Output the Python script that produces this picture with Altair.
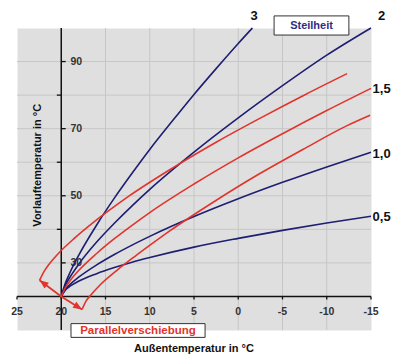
import altair as alt
import pandas as pd

# ---- data ----
blue_x = [20, 19.5, 19, 18, 16, 14, 12, 10, 5, 0, -5, -10, -15]
c3_x = [20, 19.5, 19, 18, 16, 14, 12, 10, 7.5, 5, 2.5, 0, -1.6]
c3_y = [20, 24.2, 27.2, 32.4, 41.3, 49.3, 56.7, 63.8, 72.1, 80.2, 87.9, 95.4, 100]
c2_y = [20, 23.5, 25.8, 29.7, 36.2, 41.8, 47, 51.9, 63, 73.2, 82.8, 91.9, 100]
c10_y = [20, 22.2, 23.6, 25.8, 29.4, 32.5, 35.3, 37.9, 43.8, 49.1, 54, 58.6, 63]
c05_y = [20, 22, 23.05, 24.6, 26.8, 28.6, 30.2, 31.6, 34.7, 37.3, 39.7, 41.9, 43.9]

r15_x = [20, 19.5, 19, 18, 16, 14, 12, 10, 5, 0, -5, -10, -15]
r15_y = [20, 22.8, 24.7, 27.8, 32.8, 37.2, 41.2, 45, 53.5, 61.3, 68.5, 75.4, 82]
rtop_x = [22.45, 21.9, 21.4, 20.4, 18.4, 16.4, 14.4, 12.4, 7.4, 2.4, -2.6, -7.6, -12.3]
rtop_y = [24.8, 27.6, 29.5, 32.6, 37.6, 42, 46, 49.8, 58.3, 66.1, 73.3, 80.2, 86.4]
rlow_x = [17.65, 17.2, 16.7, 15.7, 13.7, 11.7, 9.7, 7.7, 2.7, -2.3, -7.3, -12.3, -14.9]
rlow_y = [16.1, 18.6, 20.3, 23.2, 27.8, 31.9, 35.8, 39.6, 48.3, 56.4, 63.8, 70.9, 74.0]

arrow_x = [22.45, 20, 17.65]
arrow_y = [24.8, 20, 16.1]

x_ticks = [25, 20, 15, 10, 5, 0, -5, -10, -15]
x_grid = [15, 10, 5, 0, -5, -10]
y_grid = [30, 40, 50, 60, 70, 80, 90]
y_label_vals = [30, 50, 70, 90]
y_left_ticks = [40, 60, 80]

curve_labels = ["3", "2", "1,5", "1,0", "0,5"]
curve_label_x = [-1.8, -16.2, -16.2, -16.2, -16.2]
curve_label_y = [103.6, 103.6, 81.8, 62.4, 43.6]

BLUE = "#1e1e72"
RED = "#e0342c"
FONT = "Liberation Sans"

# ---- tables ----
rows = []
for name, xs, ys in [("3", c3_x, c3_y), ("2", blue_x, c2_y), ("1.0", blue_x, c10_y),
                     ("0.5", blue_x, c05_y), ("1.5", r15_x, r15_y),
                     ("top", rtop_x, rtop_y), ("low", rlow_x, rlow_y)]:
    for i, (a, b) in enumerate(zip(xs, ys)):
        rows.append({"x": a, "y": b, "curve": name, "i": i})
curves = pd.DataFrame(rows)

X = lambda f="x": alt.X(f"{f}:Q", scale=alt.Scale(domain=[-15, 25], reverse=True, nice=False, zero=False), axis=None)
Y = lambda f="y": alt.Y(f"{f}:Q", scale=alt.Scale(domain=[10, 100], nice=False, zero=False), axis=None)

vgrid = alt.Chart(pd.DataFrame({"x": x_grid})).mark_rule(color="#c6c6c6", strokeWidth=1).encode(x=X())
hgrid = alt.Chart(pd.DataFrame({"y": y_grid})).mark_rule(color="#c6c6c6", strokeWidth=1).encode(y=Y())

yaxis = alt.Chart(pd.DataFrame({"x": [20]})).mark_rule(color="#111", strokeWidth=1.5).encode(x=X())
xaxis = alt.Chart(pd.DataFrame({"y": [20]})).mark_rule(color="#111", strokeWidth=1.5).encode(y=Y())

xt = pd.DataFrame({"x": x_ticks, "y": [20] * len(x_ticks), "y2": [19.1] * len(x_ticks)})
xticks = alt.Chart(xt).mark_rule(color="#111", strokeWidth=1.3).encode(x=X(), y=Y(), y2="y2:Q")
yt_r = pd.DataFrame({"y": y_label_vals, "x": [20] * 4, "x2": [19.5] * 4})
yt_l = pd.DataFrame({"y": y_left_ticks, "x": [20] * 3, "x2": [20.5] * 3})
yticks_r = alt.Chart(yt_r).mark_rule(color="#111", strokeWidth=1.3).encode(y=Y(), x=X(), x2="x2:Q")
yticks_l = alt.Chart(yt_l).mark_rule(color="#111", strokeWidth=1.3).encode(y=Y(), x=X(), x2="x2:Q")

xlab = alt.Chart(pd.DataFrame({"x": x_ticks, "y": [15.5] * len(x_ticks), "t": [str(v) for v in x_ticks]})).mark_text(
    font=FONT, fontSize=10.5, fontWeight="bold", color="#333", baseline="middle").encode(x=X(), y=Y(), text="t:N")
ylab = alt.Chart(pd.DataFrame({"y": y_label_vals, "x": [18.3] * 4, "t": [str(v) for v in y_label_vals]})).mark_text(
    font=FONT, fontSize=10.5, fontWeight="bold", color="#333", baseline="middle").encode(x=X(), y=Y(), text="t:N")

lines = alt.Chart(curves).mark_line(strokeWidth=1.6, interpolate="monotone").encode(
    x=X(), y=Y(), order="i:Q",
    color=alt.Color("curve:N", scale=alt.Scale(domain=["3", "2", "1.0", "0.5", "1.5", "top", "low"],
                                               range=[BLUE, BLUE, BLUE, BLUE, RED, RED, RED]), legend=None))

arrow = alt.Chart(pd.DataFrame({"x": arrow_x, "y": arrow_y, "i": [0, 1, 2]})).mark_line(
    color=RED, strokeWidth=1.8).encode(x=X(), y=Y(), order="i:Q")
head_path = "M0,0L-0.8,2L0.8,2Z"
head1 = alt.Chart(pd.DataFrame({"x": [arrow_x[0]], "y": [arrow_y[0]]})).mark_point(
    shape=head_path, filled=True, color=RED, opacity=1, size=80, angle=307).encode(x=X(), y=Y())
head2 = alt.Chart(pd.DataFrame({"x": [arrow_x[2]], "y": [arrow_y[2]]})).mark_point(
    shape=head_path, filled=True, color=RED, opacity=1, size=80, angle=122).encode(x=X(), y=Y())

clab = alt.Chart(pd.DataFrame({"x": curve_label_x, "y": curve_label_y, "t": curve_labels})).mark_text(
    font=FONT, fontSize=13, fontWeight="bold", color="#111", baseline="middle").encode(x=X(), y=Y(), text="t:N")

boxes = pd.DataFrame({"x": [-4.05, 18.9], "x2": [-12.5, 3.75], "y": [103.6, 11.9], "y2": [97.9, 7.8]})
rects = alt.Chart(boxes).mark_rect(fill="white", stroke="#333", strokeWidth=1).encode(
    x=X(), x2="x2:Q", y=Y(), y2="y2:Q")
steil = alt.Chart(pd.DataFrame({"x": [-8.28], "y": [100.7], "t": ["Steilheit"]})).mark_text(
    font=FONT, fontSize=11, fontWeight="bold", color="#2e2e86", baseline="middle").encode(x=X(), y=Y(), text="t:N")
para = alt.Chart(pd.DataFrame({"x": [11.33], "y": [9.85], "t": ["Parallelverschiebung"]})).mark_text(
    font=FONT, fontSize=11.5, fontWeight="bold", color=RED, baseline="middle").encode(x=X(), y=Y(), text="t:N")

ytitle = alt.Chart(pd.DataFrame({"x": [22.6], "y": [59.1], "t": ["Vorlauftemperatur in °C"]})).mark_text(
    font=FONT, fontSize=11, fontWeight="bold", color="#111", angle=270, baseline="middle").encode(x=X(), y=Y(), text="t:N")
xtitle = alt.Chart(pd.DataFrame({"x": [5.0], "y": [4.4], "t": ["Außentemperatur in °C"]})).mark_text(
    font=FONT, fontSize=11, fontWeight="bold", color="#111", baseline="middle").encode(x=X(), y=Y(), text="t:N")

chart = alt.layer(
    vgrid, hgrid, xlab, ylab, xticks, yticks_r, yticks_l, yaxis, xaxis,
    lines, arrow, head1, head2, clab, rects, steil, para, ytitle, xtitle
).properties(
    width=354, height=302,
    autosize=alt.AutoSizeParams(type="none"),
    padding={"left": 9, "top": 20, "right": 21, "bottom": 24},
    background="white",
).configure_view(fill="#dfdfdf", stroke="transparent")

chart.save("out.html", embed_options={"renderer": "svg", "actions": False})
